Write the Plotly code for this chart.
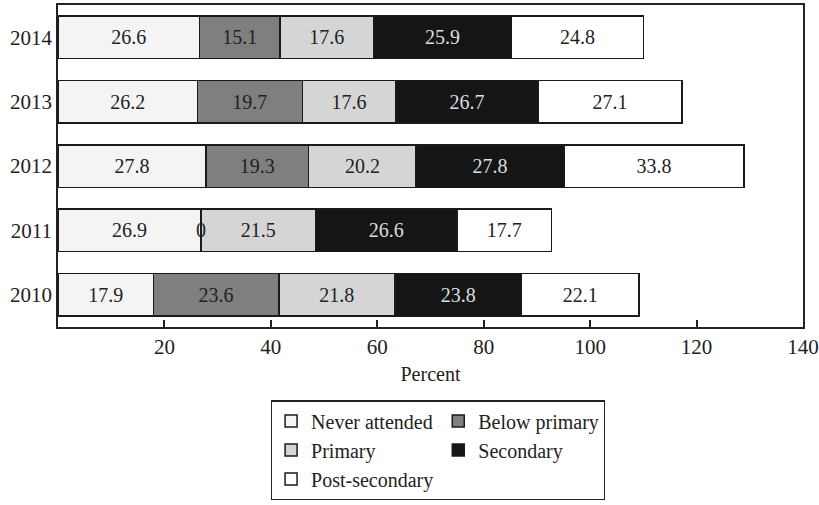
import plotly.graph_objects as go

years = ["2010", "2011", "2012", "2013", "2014"]
series_names = ["Never attended", "Below primary", "Primary", "Secondary", "Post-secondary"]
never_attended = [17.9, 26.9, 27.8, 26.2, 26.6]
below_primary = [23.6, 0.0, 19.3, 19.7, 15.1]
primary = [21.8, 21.5, 20.2, 17.6, 17.6]
secondary = [23.8, 26.6, 27.8, 26.7, 25.9]
post_secondary = [22.1, 17.7, 33.8, 27.1, 24.8]
x_ticks = [20, 40, 60, 80, 100, 120, 140]

values = [never_attended, below_primary, primary, secondary, post_secondary]
fills = ["#f4f4f4", "#7f7f7f", "#d5d5d5", "#151515", "#ffffff"]
text_colors = ["#222222", "#222222", "#222222", "#dddddd", "#222222"]
groups = ["g1", "g2", "g1", "g2", "g1"]

FONT = "Liberation Serif"

fig = go.Figure()
for name, vals, fill, tc, grp in zip(series_names, values, fills, text_colors, groups):
    fig.add_trace(go.Bar(
        y=years, x=vals, name=name, orientation="h",
        marker=dict(color=fill, line=dict(color="#1a1a1a", width=1.5)),
        text=[f"{v:.1f}" for v in vals],
        textposition="inside", insidetextanchor="middle",
        textfont=dict(family=FONT, size=20, color=tc),
        legendgroup=grp,
    ))

# labels for zero-width segments (shown as "0" in the reference)
annotations = []
for si, vals in enumerate(values):
    for yi, v in enumerate(vals):
        if v == 0:
            left = sum(values[k][yi] for k in range(si))
            annotations.append(dict(x=left, y=yi, xref="x", yref="y",
                                    text="0", showarrow=False,
                                    font=dict(family=FONT, size=20, color="#222222")))

fig.update_layout(
    width=819, height=505,
    margin=dict(l=58, r=16, t=5, b=168),
    barmode="stack", bargap=0.34,
    paper_bgcolor="white", plot_bgcolor="white",
    font=dict(family=FONT, size=20, color="#222222"),
    showlegend=True,
    legend=dict(
        orientation="h", traceorder="grouped",
        x=0.286, xanchor="left", y=-0.228, yanchor="top",
        bordercolor="#222222", borderwidth=1.2,
        font=dict(family=FONT, size=20, color="#222222"),
        itemwidth=30, tracegroupgap=0,
    ),
    annotations=annotations,
)
fig.update_xaxes(
    range=[0, 140], tickvals=x_ticks, ticks="inside", ticklen=7, tickwidth=1.5,
    tickcolor="#222222", showline=True, linecolor="#222222", linewidth=1.5,
    mirror=True, showgrid=False, zeroline=False, automargin=False,
    title=dict(text="Percent", font=dict(family=FONT, size=20), standoff=9),
    tickfont=dict(family=FONT, size=21),
)
fig.update_yaxes(
    type="category", categoryorder="array", categoryarray=years, range=[-0.5, 4.5],
    showline=True, linecolor="#222222", linewidth=1.5, mirror=True,
    showgrid=False, ticks="", ticklabelstandoff=0, automargin=False,
    tickfont=dict(family=FONT, size=21),
)

fig.write_html("out.html", config={"displayModeBar": False},
               post_script="document.body.style.margin='0';")
